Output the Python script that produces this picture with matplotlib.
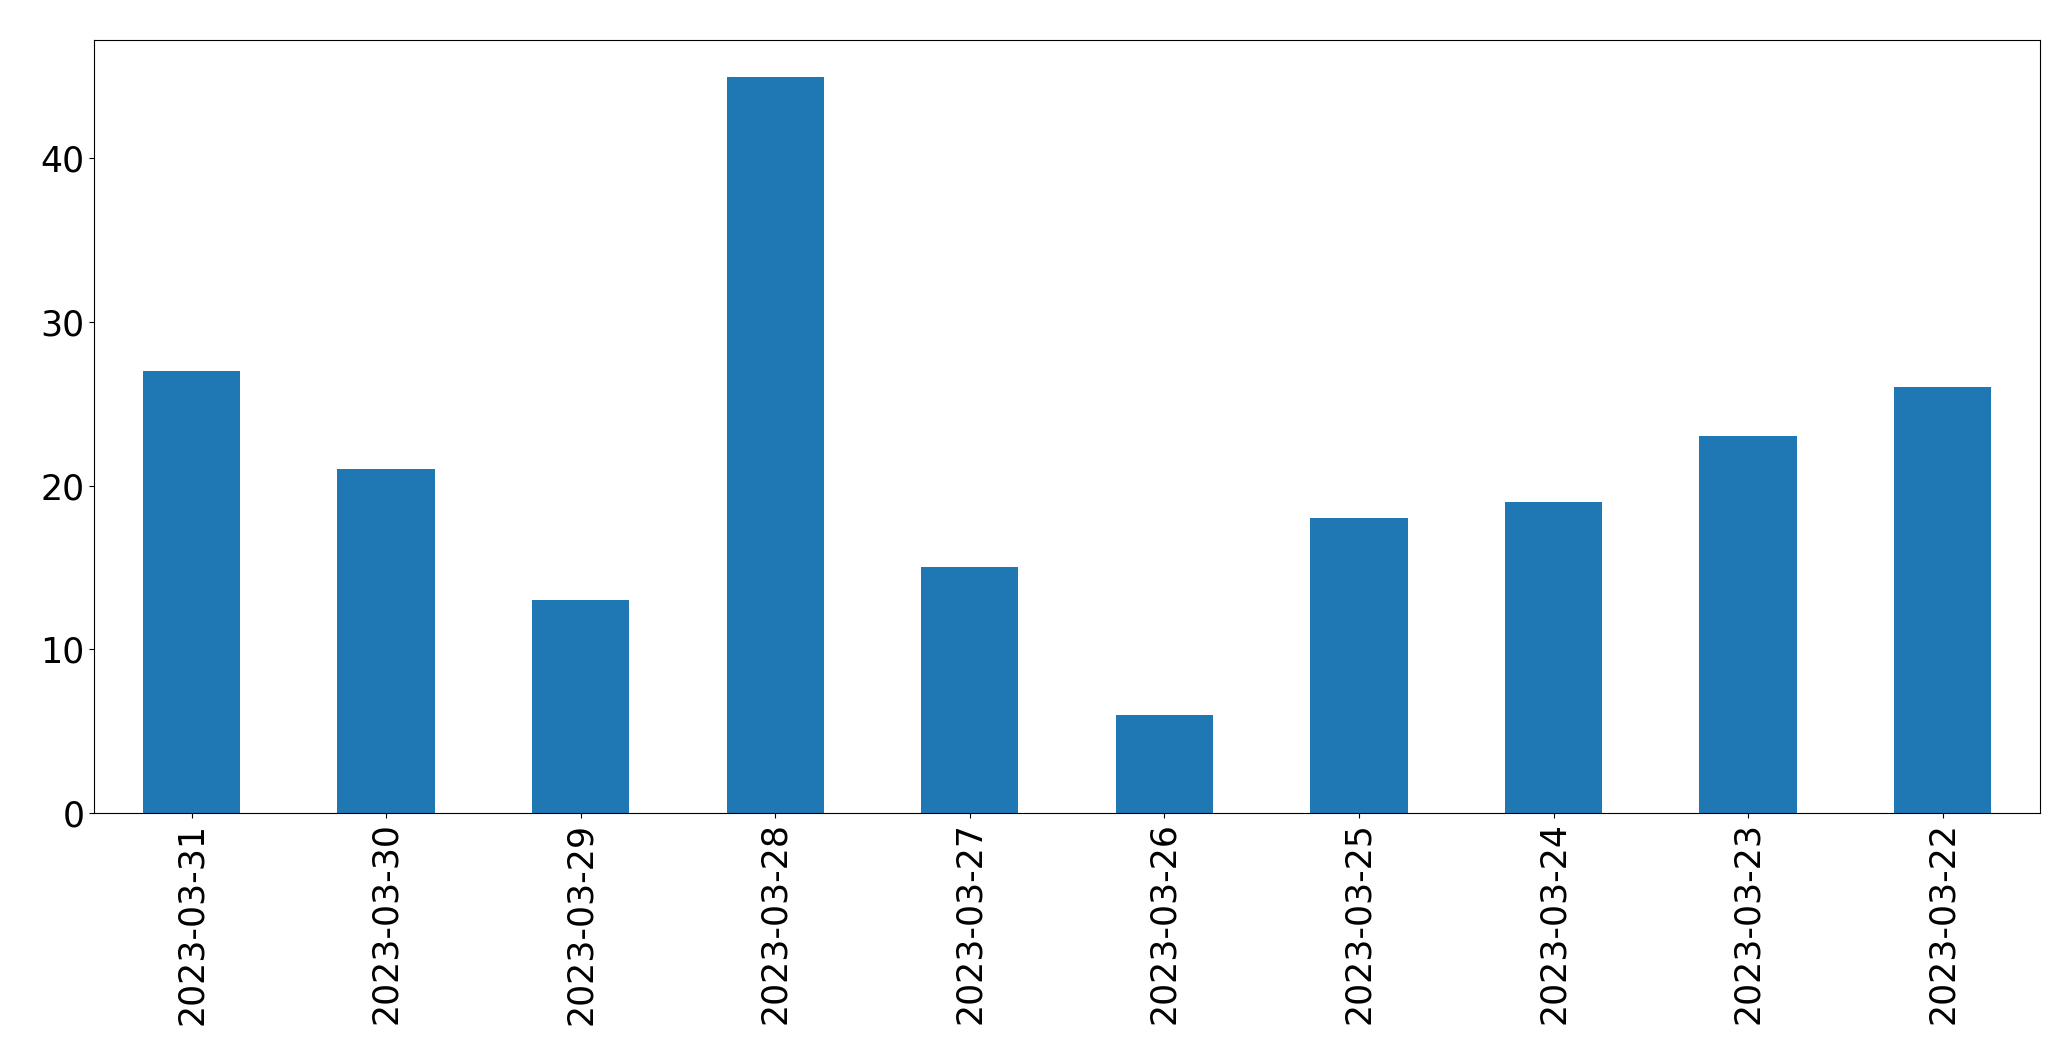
import matplotlib
matplotlib.use("Agg")
import matplotlib.pyplot as plt

dates = ["2023-03-31", "2023-03-30", "2023-03-29", "2023-03-28", "2023-03-27",
         "2023-03-26", "2023-03-25", "2023-03-24", "2023-03-23", "2023-03-22"]
counts = [27, 21, 13, 45, 15, 6, 18, 19, 23, 26]

fig = plt.figure(figsize=(20.71, 10.61), dpi=100)
ax = fig.add_axes([0.0455, 0.234, 0.9395, 0.7285])

positions = range(len(dates))
ax.bar(positions, counts, width=0.5, color="#1f77b4")
ax.set_xticks(list(positions))
ax.set_xticklabels(dates, rotation=90)
ax.set_xlim(-0.5, len(dates) - 0.5)
ax.set_ylim(0, 47.25)
ax.tick_params(labelsize=25)

fig.savefig("out.png", dpi=100)
